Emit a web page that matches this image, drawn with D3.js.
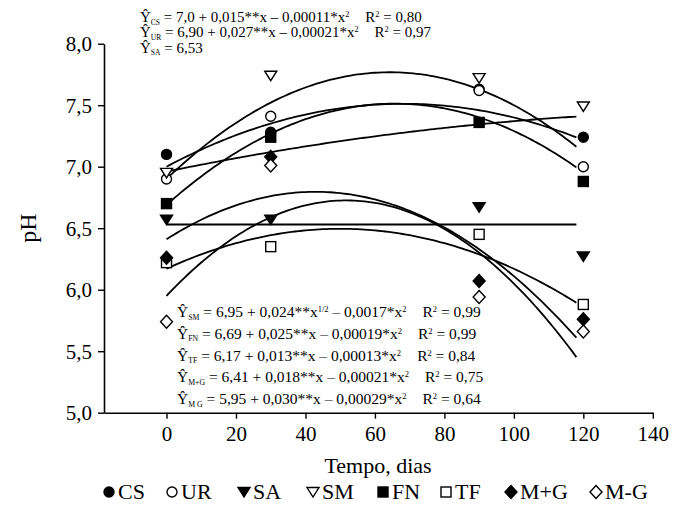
<!DOCTYPE html>
<html>
<head>
<meta charset="utf-8">
<script src="https://cdn.jsdelivr.net/npm/d3@7"></script>
<style>
  body { margin: 0; background: #fff; }
  svg, svg text, svg tspan { font-family: "Times New Roman", "Liberation Serif", Tinos, FreeSerif !important; }
</style>
</head>
<body>
<div id="chart"></div>
<script>
// dias de amostragem
const dias = [0, 30, 90, 120];

// pH observado por tratamento
const cs = [7.10, 7.28, 7.63, 7.24];
const ur = [6.90, 7.41, 7.62, 7.00];
const sa = [6.57, 6.57, 6.67, 6.27];
const sm = [6.95, 7.74, 7.72, 7.49];
const fn = [6.70, 7.24, 7.36, 6.88];
const tf = [6.22, 6.35, 6.45, 5.88];
const mMaisG = [6.26, 7.08, 6.07, 5.76];
const mMenosG = [5.74, 7.01, 5.94, 5.66];

// coeficientes das curvas ajustadas (a, b, c) -> a + b*x + c*x^2
const coefs = [
  [7.0, 0.015, -0.00011],
  [6.90, 0.027, -0.00021],
  [6.53, 0, 0],
  [6.96, 0.0058, -0.000017],
  [6.69, 0.025, -0.00019],
  [6.17, 0.013, -0.00013],
  [6.41, 0.018, -0.00021],
  [5.95, 0.030, -0.00029]
];

const series = ["CS", "UR", "SA", "SM", "FN", "TF", "M+G", "M-G"];
const valores = [cs, ur, sa, sm, fn, tf, mMaisG, mMenosG];
const simbolos = ["circle", "circle", "triDown", "triDown", "square", "square", "diamond", "diamond"];
const cheio = [true, false, true, false, true, false, true, false];

const xTicks = [0, 20, 40, 60, 80, 100, 120, 140];
const yTicks = [5.0, 5.5, 6.0, 6.5, 7.0, 7.5, 8.0];

// equações (texto)
const eqTopo = [
  ["Ŷ_{CS} = 7,0 + 0,015**x – 0,00011*x^{2}", "R^{2} = 0,80"],
  ["Ŷ_{UR} = 6,90 + 0,027**x – 0,00021*x^{2}", "R^{2} = 0,97"],
  ["Ŷ_{SA} = 6,53", ""]
];
const eqBaixo = [
  ["Ŷ_{SM} = 6,95 + 0,024**x^{1/2} – 0,0017*x^{2}", "R^{2} = 0,99"],
  ["Ŷ_{FN} = 6,69 + 0,025**x – 0,00019*x^{2}", "R^{2} = 0,99"],
  ["Ŷ_{TF} = 6,17 + 0,013**x – 0,00013*x^{2}", "R^{2} = 0,84"],
  ["Ŷ_{M+G} = 6,41 + 0,018**x – 0,00021*x^{2}", "R^{2} = 0,75"],
  ["Ŷ_{M G} = 5,95 + 0,030**x – 0,00029*x^{2}", "R^{2} = 0,64"]
];

const W = 683, H = 506;
const FONTE = '"Times New Roman", "Liberation Serif", Tinos, FreeSerif';
const svg = d3.select("#chart").append("svg").attr("width", W).attr("height", H)
  .attr("font-family", FONTE);

const x = d3.scaleLinear().domain([-18, 140]).range([104, 652.8]);
const y = d3.scaleLinear().domain([5, 8]).range([412.7, 43.7]);
const fmt = (d) => d3.format(".1f")(d).replace(".", ",");

// eixos
const gx = svg.append("g").attr("transform", `translate(0,${y(5)})`)
  .call(d3.axisBottom(x).tickValues(xTicks).tickSize(6).tickSizeOuter(0).tickPadding(7));
const gy = svg.append("g").attr("transform", `translate(${x(-18)},0)`)
  .call(d3.axisLeft(y).tickValues(yTicks).tickFormat(fmt).tickSize(6).tickSizeOuter(0).tickPadding(6));
[gx, gy].forEach((g) => {
  g.attr("font-family", FONTE);
  g.select(".domain").attr("stroke-width", 1.6);
  g.selectAll(".tick line").attr("stroke-width", 1.4);
  g.selectAll("text").attr("font-family", FONTE).attr("font-size", 21).attr("fill", "#000");
});
gy.selectAll("text").attr("dy", "0.34em");

// títulos
svg.append("text").attr("x", 378).attr("y", 473).attr("text-anchor", "middle")
  .attr("font-family", FONTE).attr("font-size", 22).text("Tempo, dias");
svg.append("text").attr("transform", `translate(36,228) rotate(-90)`).attr("text-anchor", "middle")
  .attr("font-family", FONTE).attr("font-size", 24).text("pH");

// curvas
const linha = d3.line().x((d) => x(d[0])).y((d) => y(d[1]));
coefs.forEach((c) => {
  const pts = d3.range(0, 118.01, 1).map((t) => [t, c[0] + c[1] * t + c[2] * t * t]);
  svg.append("path").attr("d", linha(pts)).attr("fill", "none").attr("stroke", "#000").attr("stroke-width", 1.8);
});

// símbolos
function simbolo(g, tipo, preenchido, cx, cy) {
  let el;
  if (tipo === "circle") {
    el = g.append("circle").attr("cx", cx).attr("cy", cy).attr("r", 5);
  } else if (tipo === "square") {
    el = g.append("rect").attr("x", cx - 5).attr("y", cy - 5).attr("width", 10).attr("height", 10);
  } else if (tipo === "triDown") {
    el = g.append("path").attr("d", `M${cx - 6},${cy - 4.5}L${cx + 6},${cy - 4.5}L${cx},${cy + 5}Z`);
  } else {
    el = g.append("path").attr("d", `M${cx},${cy - 6.5}L${cx + 6},${cy}L${cx},${cy + 6.5}L${cx - 6},${cy}Z`);
  }
  el.attr("fill", preenchido ? "#000" : "#fff").attr("stroke", "#000").attr("stroke-width", 1.4);
}

const gm = svg.append("g");
valores.forEach((vals, i) => {
  vals.forEach((v, j) => simbolo(gm, simbolos[i], cheio[i], x(dias[j]), y(v)));
});

// equações
function equacao(g, px, py, txt, size) {
  const t = g.append("text").attr("x", px).attr("y", py)
    .attr("font-family", FONTE).attr("font-size", size);
  const partes = txt.split(/(_\{[^}]*\}|\^\{[^}]*\})/).filter((p) => p !== "");
  let shift = 0;
  partes.forEach((p) => {
    if (p.startsWith("_{")) {
      t.append("tspan").attr("dy", 2.5 - shift).attr("font-size", size * 0.5).text(p.slice(2, -1));
      shift = 2.5;
    } else if (p.startsWith("^{")) {
      t.append("tspan").attr("dy", -5 - shift).attr("font-size", size * 0.55).text(p.slice(2, -1));
      shift = -5;
    } else {
      t.append("tspan").attr("dy", -shift).text(p);
      shift = 0;
    }
  });
  return t;
}

const ge = svg.append("g");
eqTopo.forEach((e, i) => {
  const t = equacao(ge, 140, 22 + i * 15.3, e[0], 15);
  if (e[1]) {
    const w = t.node().getComputedTextLength();
    equacao(ge, 140 + w + 16, 22 + i * 15.3, e[1], 15);
  }
});
eqBaixo.forEach((e, i) => {
  const t = equacao(ge, 177, 317 + i * 21.8, e[0], 15.5);
  const w = t.node().getComputedTextLength();
  equacao(ge, 177 + w + 16, 317 + i * 21.8, e[1], 15.5);
});

// legenda
const legX = [109, 172, 244, 313, 383, 446, 511, 596];
const gl = svg.append("g");
series.forEach((s, i) => {
  simbolo(gl, simbolos[i], cheio[i], legX[i], 492);
  gl.append("text").attr("x", legX[i] + 9).attr("y", 499)
    .attr("font-family", FONTE).attr("font-size", 22).text(s);
});
</script>
</body>
</html>
